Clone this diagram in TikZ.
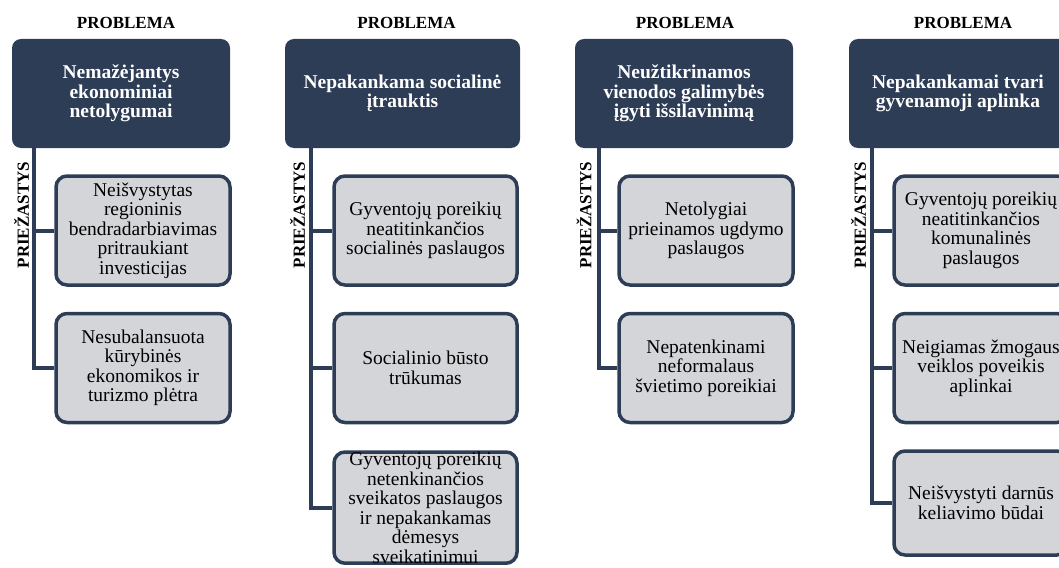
\documentclass[tikz,border=0pt]{standalone}
\usepackage{fontspec}
\setmainfont{Liberation Serif}
\usepackage{xcolor}
\usepackage{tikz}
\usetikzlibrary{positioning}

\definecolor{probnavy}{HTML}{2E3D56}
\definecolor{causegrey}{HTML}{D4D5D9}
\newcommand{\probfont}{\fontsize{19.5}{19.5}\selectfont\bfseries}
\newcommand{\causefont}{\fontsize{19.5}{19.5}\selectfont}
\newcommand{\headfont}{\fontsize{17}{17}\selectfont\bfseries}

\begin{document}
\begin{tikzpicture}[
  x=1pt, y=-1pt,
  probbox/.style={fill=probnavy, rounded corners=9pt, text=white,
                  minimum width=218pt, minimum height=109pt,
                  inner sep=0pt, align=center, font=\probfont},
  causebox/.style={draw=probnavy, line width=3.5pt, fill=causegrey,
                   rounded corners=11pt, minimum width=174pt,
                   minimum height=109pt, inner sep=0pt, align=center,
                   font=\causefont},
  headlbl/.style={inner sep=0pt, font=\headfont},
  sidelbl/.style={inner sep=0pt, rotate=90, font=\headfont},
  link/.style={draw=probnavy, line width=4pt},
]
\useasboundingbox (0,0) rectangle (1059,567);

%% ---- column 1 ----
\node[probbox] (p1) at (121,93.5) {Nemažėjantys\\ekonominiai\\netolygumai};
\node[headlbl, above=10pt of p1, xshift=5pt] (h1) {PROBLEMA};
\coordinate (t1) at (33.5,147);
\node[sidelbl] (s1) at (21.5,215) {PRIEŽASTYS};
\node[causebox] (c11) at (143,230.5)
  {Neišvystytas\\regioninis\\bendradarbiavimas\\pritraukiant\\investicijas};
\node[causebox, below=25pt of c11] (c12)
  {Nesubalansuota\\kūrybinės\\ekonomikos ir\\turizmo plėtra};
\draw[link] (t1) |- (c12.west);
\draw[link] (t1 |- c11.west) -- (c11.west);

%% ---- column 2 ----
\node[probbox, minimum width=235pt] (p2) at (402.5,93.5)
  {Nepakankama socialinė\\įtrauktis};
\node[headlbl, above=10pt of p2, xshift=4pt] (h2) {PROBLEMA};
\coordinate (t2) at (310.5,147);
\node[sidelbl] (s2) at (297.5,215) {PRIEŽASTYS};
\node[causebox, minimum width=183pt] (c21) at (425.5,230.5)
  {Gyventojų poreikių\\neatitinkančios\\socialinės paslaugos};
\node[causebox, minimum width=183pt, below=25pt of c21] (c22)
  {Socialinio būsto\\trūkumas};
\node[causebox, minimum width=183pt, below=26pt of c22] (c23)
  {Gyventojų poreikių\\netenkinančios\\sveikatos paslaugos\\ir nepakankamas\\dėmesys\\sveikatinimui};
\draw[link] (t2) |- (c23.west);
\draw[link] (t2 |- c21.west) -- (c21.west);
\draw[link] (t2 |- c22.west) -- (c22.west);

%% ---- column 3 ----
\node[probbox] (p3) at (684,93.5)
  {Neužtikrinamos\\vienodos galimybės\\įgyti išsilavinimą};
\node[headlbl, above=10pt of p3, xshift=1pt] (h3) {PROBLEMA};
\coordinate (t3) at (598.5,147);
\node[sidelbl] (s3) at (584,215) {PRIEŽASTYS};
\node[causebox] (c31) at (706,230.5)
  {Netolygiai\\prieinamos ugdymo\\paslaugos};
\node[causebox, below=25pt of c31] (c32)
  {Nepatenkinami\\neformalaus\\švietimo poreikiai};
\draw[link] (t3) |- (c32.west);
\draw[link] (t3 |- c31.west) -- (c31.west);

%% ---- column 4 ----
\node[probbox] (p4) at (958,93.5)
  {Nepakankamai tvari\\gyvenamoji aplinka};
\node[headlbl, above=10pt of p4, xshift=5pt] (h4) {PROBLEMA};
\coordinate (t4) at (872,147);
\node[sidelbl] (s4) at (858.5,215) {PRIEŽASTYS};
\node[causebox] (c41) at (981,230.5)
  {Gyventojų poreikių\\neatitinkančios\\komunalinės\\paslaugos};
\node[causebox, below=25pt of c41] (c42)
  {Neigiamas žmogaus\\veiklos poveikis\\aplinkai};
\node[causebox, minimum height=104pt, below=25pt of c42] (c43)
  {Neišvystyti darnūs\\keliavimo būdai};
\draw[link] (t4) |- (c43.west);
\draw[link] (t4 |- c41.west) -- (c41.west);
\draw[link] (t4 |- c42.west) -- (c42.west);
\end{tikzpicture}
\end{document}
